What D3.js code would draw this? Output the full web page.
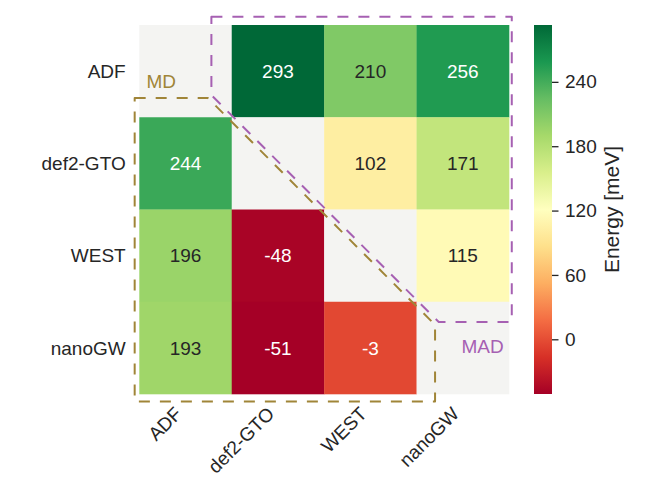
<!DOCTYPE html>
<html><head><meta charset="utf-8">
<script src="https://cdn.jsdelivr.net/npm/d3@7"></script>
<style>body{margin:0;background:#fff}svg{display:block}text{font-family:"Liberation Sans",Arial,sans-serif}</style>
</head><body>
<svg id="c" width="664" height="498"></svg>
<script>
const methods = ["ADF", "def2-GTO", "WEST", "nanoGW"];
// row-major matrix; null on the diagonal
const values = [
  [null, 293, 210, 256],
  [244, null, 102, 171],
  [196, -48, null, 115],
  [193, -51, -3, null]
];
const cbTicks = [0, 60, 120, 180, 240];
const cbLabel = "Energy [meV]";
const rdylgn = ["#a50026","#d73027","#f46d43","#fdae61","#fee08b","#ffffbf","#d9ef8b","#a6d96a","#66bd63","#1a9850","#006837"];
const vmin = -51, vmax = 293;
// annotation regions in cell units: MD (lower triangle) and MAD (upper triangle)
const mdRegion = [[-0.05,0.79],[0.74,0.79],[3.2,3.25],[3.2,4.08],[-0.05,4.08]];
const madRegion = [[0.78,-0.09],[4.03,-0.09],[4.03,3.22],[3.24,3.22],[0.78,0.76]];

const FS = 19;
const svg = d3.select("#c");
const gx0 = 139.3, gx1 = 509, gy0 = 25, gy1 = 394;
const x = d3.scaleBand().domain(methods).range([gx0, gx1]);
const y = d3.scaleBand().domain(methods).range([gy0, gy1]);
const ux = d3.scaleLinear().domain([0,4]).range([gx0, gx1]);
const uy = d3.scaleLinear().domain([0,4]).range([gy0, gy1]);
const color = d3.scaleLinear()
  .domain(d3.range(rdylgn.length).map(i => vmin + (vmax - vmin) * i / (rdylgn.length - 1)))
  .range(rdylgn).interpolate(d3.interpolateRgb).clamp(true);

const cells = [];
values.forEach((row, i) => row.forEach((v, j) => cells.push({r: methods[i], c: methods[j], v})));

svg.append("g").selectAll("rect").data(cells).join("rect")
  .attr("x", d => x(d.c)).attr("y", d => y(d.r))
  .attr("width", x.bandwidth() + 0.3).attr("height", y.bandwidth() + 0.3)
  .attr("fill", d => d.v === null ? "#f4f4f2" : color(d.v));

function lum(c) {
  const rgb = d3.rgb(c);
  const f = v => { v /= 255; return v <= 0.03928 ? v / 12.92 : Math.pow((v + 0.055) / 1.055, 2.4); };
  return 0.2126 * f(rgb.r) + 0.7152 * f(rgb.g) + 0.0722 * f(rgb.b);
}
svg.append("g").selectAll("text").data(cells.filter(d => d.v !== null)).join("text")
  .attr("x", d => x(d.c) + x.bandwidth() / 2)
  .attr("y", d => y(d.r) + y.bandwidth() / 2)
  .attr("dy", "0.35em").attr("text-anchor", "middle")
  .attr("font-size", FS)
  .attr("fill", d => lum(color(d.v)) > 0.408 ? "#262626" : "#ffffff")
  .text(d => d.v);

// y tick labels
svg.append("g").selectAll("text").data(methods).join("text")
  .attr("x", gx0 - 13.6).attr("y", d => y(d) + y.bandwidth() / 2)
  .attr("dy", "0.35em").attr("text-anchor", "end")
  .attr("font-size", FS).attr("fill", "#262626").text(d => d);

// x tick labels
svg.append("g").selectAll("text").data(methods).join("text")
  .attr("transform", d => `translate(${x(d) + x.bandwidth() / 2 - 2.5},${gy1 + 21}) rotate(-45)`)
  .attr("text-anchor", "end")
  .attr("font-size", FS).attr("fill", "#262626").text(d => d);

// region outlines
const line = d3.line().x(d => ux(d[0])).y(d => uy(d[1])).curve(d3.curveLinearClosed);
const mdCol = "#a08538", madCol = "#a660b2";
svg.append("path").attr("d", line(mdRegion)).attr("fill", "none")
  .attr("stroke", mdCol).attr("stroke-width", 2).attr("stroke-dasharray", "11,10")
  .attr("stroke-linejoin", "round");
svg.append("path").attr("d", line(madRegion)).attr("fill", "none")
  .attr("stroke", madCol).attr("stroke-width", 2).attr("stroke-dasharray", "11,10")
  .attr("stroke-linejoin", "round");
svg.append("text").attr("x", 146.5).attr("y", 88.3).attr("font-size", FS)
  .attr("fill", mdCol).text("MD");
svg.append("text").attr("x", 461.5).attr("y", 353.3).attr("font-size", FS)
  .attr("fill", madCol).text("MAD");

// colorbar
const cbx = 534, cbw = 18;
const cy = d3.scaleLinear().domain([vmin, vmax]).range([gy1, gy0]);
const defs = svg.append("defs");
const grad = defs.append("linearGradient").attr("id", "cbg")
  .attr("x1", 0).attr("y1", 1).attr("x2", 0).attr("y2", 0);
rdylgn.forEach((c, i) => grad.append("stop").attr("offset", i / (rdylgn.length - 1)).attr("stop-color", c));
svg.append("rect").attr("x", cbx).attr("y", gy0).attr("width", cbw).attr("height", gy1 - gy0)
  .attr("fill", "url(#cbg)");
const cax = svg.append("g").attr("transform", `translate(${cbx + cbw},0)`)
  .call(d3.axisRight(cy).tickValues(cbTicks).tickSize(6.5).tickPadding(6.5));
cax.select(".domain").remove();
cax.selectAll(".tick line").attr("stroke", "#262626").attr("stroke-width", 1.3);
cax.selectAll(".tick text").attr("fill", "#262626").attr("font-size", FS)
  .attr("font-family", "'Liberation Sans',Arial,sans-serif");
svg.append("text").attr("transform", `translate(619,${(gy0 + gy1) / 2}) rotate(-90)`)
  .attr("text-anchor", "middle").attr("font-size", 21).attr("fill", "#262626").text(cbLabel);
</script>
</body></html>
